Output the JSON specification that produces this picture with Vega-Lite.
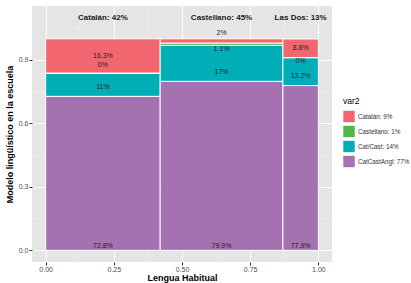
{
  "$schema": "https://vega.github.io/schema/vega-lite/v6.json",
  "width": 300,
  "height": 256,
  "autosize": {"type": "none"},
  "padding": {"left": 32, "top": 6, "right": 79, "bottom": 21},
  "background": "white",
  "config": {
    "view": {"fill": "#E5E5E5", "stroke": null},
    "font": "Liberation Sans",
    "axis": {
      "grid": true, "gridColor": "white", "gridWidth": 1, "domain": false,
      "tickColor": "#333333", "tickSize": 3, "labelFontSize": 7, "labelColor": "#4D4D4D",
      "titleFontSize": 9, "titleFontWeight": "bold", "titleColor": "black"
    }
  },
  "datasets": {
    "cells": [
      {"col": "Catalán", "var2": "CatCastAngl: 77%", "x0": 0, "x1": 0.42, "y0": 0, "y1": 0.728, "xm": 0.21, "ly": 0.02, "label": "72.8%"},
      {"col": "Catalán", "var2": "Cat/Cast: 14%", "x0": 0, "x1": 0.42, "y0": 0.728, "y1": 0.838, "xm": 0.21, "ly": 0.77, "label": "11%"},
      {"col": "Catalán", "var2": "Castellano: 1%", "x0": 0, "x1": 0.42, "y0": 0.838, "y1": 0.838, "xm": 0.21, "ly": 0.877, "label": "0%"},
      {"col": "Catalán", "var2": "Catalán: 9%", "x0": 0, "x1": 0.42, "y0": 0.838, "y1": 1.0, "xm": 0.21, "ly": 0.917, "label": "16.3%"},
      {"col": "Castellano", "var2": "CatCastAngl: 77%", "x0": 0.42, "x1": 0.87, "y0": 0, "y1": 0.799, "xm": 0.645, "ly": 0.02, "label": "79.9%"},
      {"col": "Castellano", "var2": "Cat/Cast: 14%", "x0": 0.42, "x1": 0.87, "y0": 0.799, "y1": 0.969, "xm": 0.645, "ly": 0.841, "label": "17%"},
      {"col": "Castellano", "var2": "Castellano: 1%", "x0": 0.42, "x1": 0.87, "y0": 0.969, "y1": 0.98, "xm": 0.645, "ly": 0.951, "label": "1.1%"},
      {"col": "Castellano", "var2": "Catalán: 9%", "x0": 0.42, "x1": 0.87, "y0": 0.98, "y1": 1.0, "xm": 0.645, "ly": 1.027, "label": "2%"},
      {"col": "Las Dos", "var2": "CatCastAngl: 77%", "x0": 0.87, "x1": 1.0, "y0": 0, "y1": 0.779, "xm": 0.935, "ly": 0.02, "label": "77.9%"},
      {"col": "Las Dos", "var2": "Cat/Cast: 14%", "x0": 0.87, "x1": 1.0, "y0": 0.779, "y1": 0.911, "xm": 0.935, "ly": 0.825, "label": "13.2%"},
      {"col": "Las Dos", "var2": "Castellano: 1%", "x0": 0.87, "x1": 1.0, "y0": 0.911, "y1": 0.911, "xm": 0.935, "ly": 0.893, "label": "0%"},
      {"col": "Las Dos", "var2": "Catalán: 9%", "x0": 0.87, "x1": 1.0, "y0": 0.911, "y1": 0.999, "xm": 0.935, "ly": 0.956, "label": "8.8%"}
    ],
    "cols": [
      {"xm": 0.21, "y": 1.1, "label": "Catalán: 42%"},
      {"xm": 0.645, "y": 1.1, "label": "Castellano: 45%"},
      {"xm": 0.935, "y": 1.1, "label": "Las Dos: 13%"}
    ],
    "minorx": [{"v": 0.125}, {"v": 0.375}, {"v": 0.625}, {"v": 0.875}],
    "minory": [{"v": 0.15}, {"v": 0.45}, {"v": 0.75}, {"v": 1.05}]
  },
  "layer": [
    {
      "data": {"name": "minorx"},
      "mark": {"type": "rule", "color": "#F2F2F2", "strokeWidth": 0.6},
      "encoding": {"x": {"field": "v", "type": "quantitative", "title": "Lengua Habitual"}}
    },
    {
      "data": {"name": "minory"},
      "mark": {"type": "rule", "color": "#F2F2F2", "strokeWidth": 0.6},
      "encoding": {"y": {"field": "v", "type": "quantitative", "title": "Modelo lingüístico en la escuela"}}
    },
    {
      "data": {"name": "cells"},
      "mark": {"type": "rect", "stroke": "white", "strokeWidth": 1},
      "encoding": {
        "x": {"field": "x0", "type": "quantitative", "title": "Lengua Habitual",
              "scale": {"domain": [-0.05, 1.05], "nice": false, "zero": false},
              "axis": {"values": [0, 0.25, 0.5, 0.75, 1], "format": ".2f", "labelPadding": 0, "titlePadding": 1}},
        "x2": {"field": "x1"},
        "y": {"field": "y0", "type": "quantitative", "title": "Modelo lingüístico en la escuela",
              "scale": {"domain": [-0.055, 1.155], "nice": false, "zero": false},
              "axis": {"values": [0, 0.3, 0.6, 0.9], "format": ".1f", "labelPadding": 1, "titlePadding": 4}},
        "y2": {"field": "y1"},
        "color": {
          "field": "var2", "type": "nominal",
          "scale": {"domain": ["Catalán: 9%", "Castellano: 1%", "Cat/Cast: 14%", "CatCastAngl: 77%"],
                    "range": ["#F2676F", "#50B848", "#00AEB8", "#A472B0"]},
          "legend": {"orient": "none", "legendX": 311, "legendY": 91, "symbolType": "square",
                     "symbolSize": 130, "symbolStrokeWidth": 0, "labelFontSize": 6.3, "labelColor": "#333333",
                     "titleFontSize": 8.5, "titleFontWeight": "normal", "titleColor": "black",
                     "rowPadding": 3, "labelOffset": 3, "titlePadding": 5}
        }
      }
    },
    {
      "data": {"name": "cells"},
      "mark": {"type": "text", "fontSize": 7, "color": "#222222", "baseline": "middle"},
      "encoding": {
        "x": {"field": "xm", "type": "quantitative", "title": "Lengua Habitual"},
        "y": {"field": "ly", "type": "quantitative", "title": "Modelo lingüístico en la escuela"},
        "text": {"field": "label"}
      }
    },
    {
      "data": {"name": "cols"},
      "mark": {"type": "text", "fontSize": 8, "fontWeight": "bold", "color": "#1A1A1A", "baseline": "middle"},
      "encoding": {
        "x": {"field": "xm", "type": "quantitative", "title": "Lengua Habitual"},
        "y": {"field": "y", "type": "quantitative", "title": "Modelo lingüístico en la escuela"},
        "text": {"field": "label"}
      }
    }
  ]
}
